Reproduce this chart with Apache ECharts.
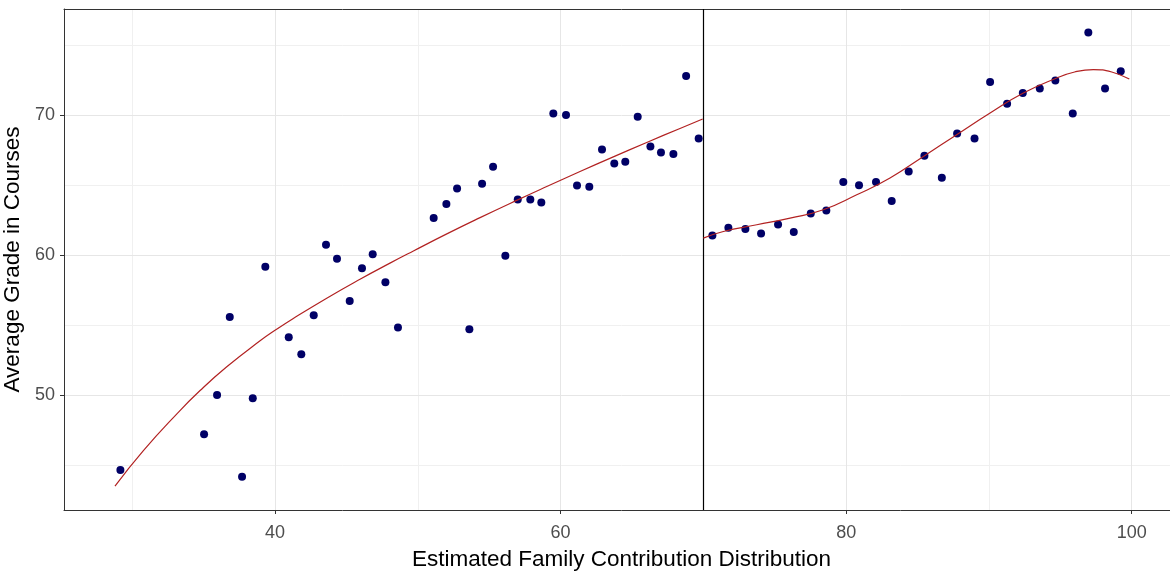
<!DOCTYPE html>
<html>
<head>
<meta charset="utf-8">
<script src="https://cdn.jsdelivr.net/npm/echarts@6/dist/echarts.min.js"></script>
<style>
html,body{margin:0;padding:0;background:#fff;overflow:hidden;}
#chart{width:1179px;height:572px;}
</style>
</head>
<body>
<div id="chart"></div>
<script>
// Scatter points (x, y)
const pointsX = [29.17,35.03,35.94,36.83,37.69,38.44,39.32,40.96,41.84,42.71,43.57,44.34,45.23,46.09,46.84,47.73,
  48.61,51.11,52.00,52.75,53.61,54.50,55.27,56.13,57.00,57.88,58.65,59.49,60.38,61.15,62.01,62.90,63.76,64.53,65.40,66.29,67.03,67.90,68.79,69.67,
  70.63,71.75,72.94,74.04,75.23,76.33,77.52,78.61,79.80,80.90,82.09,83.19,84.38,85.48,86.70,87.77,88.99,90.08,91.27,92.37,93.56,94.65,95.87,96.96,98.13,99.23];
const pointsY = [44.67,47.23,50.03,55.61,44.20,49.80,59.19,54.16,52.94,55.73,60.76,59.76,56.75,59.09,60.09,58.09,
  54.85,62.67,63.67,64.78,54.73,65.12,66.33,59.97,64.00,64.00,63.78,70.14,70.03,65.00,64.90,67.57,66.57,66.69,69.91,67.78,67.36,67.24,72.82,68.36,
  61.42,61.97,61.88,61.57,62.21,61.67,63.00,63.21,65.24,65.02,65.24,63.88,66.00,67.12,65.55,68.71,68.36,72.39,70.84,71.60,71.93,72.50,70.14,75.93,71.93,73.15];

// Fitted curve below the cutoff
const fitLeftX = [28.79,30.78,33.11,34.75,36.62,38.95,40.00,41.28,43.62,45.95,48.05,49.69,52.03,54.36,57.00,59.03,61.36,63.69,66.03,68.36,69.95];
const fitLeftY = [43.53,46.06,48.67,50.35,52.05,53.90,54.65,55.50,56.95,58.30,59.45,60.32,61.54,62.70,63.97,64.92,65.99,67.04,68.07,69.07,69.74];
// Fitted curve above the cutoff
const fitRightX = [70.00,71.40,73.74,76.07,78.40,80.74,83.07,85.41,87.74,90.08,92.41,94.75,96.00,97.31,98.60,99.83];
const fitRightY = [61.24,61.71,62.19,62.67,63.26,64.33,65.53,67.07,68.62,70.17,71.60,72.67,73.10,73.27,73.10,72.60];

const cutoff = 70;
const xMajor = [40,60,80,100];
const xMinor = [30,50,70,90];
const yMajor = [50,60,70];
const yMinor = [45,55,65,75];

const zip = (a,b) => a.map((v,i)=>[v,b[i]]);
const font = 'Liberation Sans, Arial, sans-serif';

const gridLines = [];
xMinor.forEach(v=>gridLines.push({xAxis:v, lineStyle:{color:'#f0f0f0',width:1,type:'solid'}}));
yMinor.forEach(v=>gridLines.push({yAxis:v, lineStyle:{color:'#f0f0f0',width:1,type:'solid'}}));
xMajor.forEach(v=>gridLines.push({xAxis:v, lineStyle:{color:'#e6e6e6',width:1,type:'solid'}}));
yMajor.forEach(v=>gridLines.push({yAxis:v, lineStyle:{color:'#e6e6e6',width:1,type:'solid'}}));

const X_MIN = 25.22, X_MAX = 103.31;
const chart = echarts.init(document.getElementById('chart'));
chart.setOption({
  animation:false,
  backgroundColor:'#ffffff',
  grid:{left:64, top:9, right:0, bottom:62, outerBoundsMode:'none', containLabel:false, show:false},
  xAxis:[{
    type:'value', min:X_MIN, max:X_MAX, position:'bottom',
    name:'Estimated Family Contribution Distribution', nameLocation:'middle', nameGap:38,
    nameTextStyle:{fontFamily:font, fontSize:22.5, color:'#000'},
    axisLine:{show:true, onZero:false, lineStyle:{color:'#333', width:1}},
    axisTick:{show:true, length:4, lineStyle:{color:'#333'}, customValues:xMajor},
    axisLabel:{customValues:xMajor, color:'#4d4d4d', fontFamily:font, fontSize:18, margin:14},
    splitLine:{show:false}
  },{
    type:'value', min:X_MIN, max:X_MAX, position:'top',
    axisLine:{show:true, onZero:false, lineStyle:{color:'#333', width:1}},
    axisTick:{show:false}, axisLabel:{show:false}, splitLine:{show:false}
  }],
  yAxis:{
    type:'value', min:41.82, max:77.6,
    name:'Average Grade in Courses', nameLocation:'middle', nameGap:34,
    nameTextStyle:{fontFamily:font, fontSize:22.5, color:'#000'},
    axisLine:{show:true, onZero:false, lineStyle:{color:'#333', width:1}},
    axisTick:{show:true, length:4, lineStyle:{color:'#333'}, customValues:yMajor},
    axisLabel:{customValues:yMajor, color:'#4d4d4d', fontFamily:font, fontSize:18, margin:9},
    splitLine:{show:false}
  },
  series:[
    {type:'line', data:[], silent:true, z:0,
      markLine:{silent:true, z:0, symbol:'none', label:{show:false}, animation:false, data:gridLines}},
    {type:'line', data:[], silent:true, z:1,
      markLine:{silent:true, z:1, symbol:'none', label:{show:false}, animation:false,
        data:[{xAxis:cutoff, lineStyle:{color:'#000',width:1.2,type:'solid'}}]}},
    {type:'scatter', data:zip(pointsX,pointsY), symbolSize:8, itemStyle:{color:'#000066', opacity:1}, z:3},
    {type:'line', data:zip(fitLeftX,fitLeftY), smooth:true, showSymbol:false, lineStyle:{color:'#b22222', width:1.2}, z:4},
    {type:'line', data:zip(fitRightX,fitRightY), smooth:true, showSymbol:false, lineStyle:{color:'#b22222', width:1.2}, z:4}
  ]
});
</script>
</body>
</html>
